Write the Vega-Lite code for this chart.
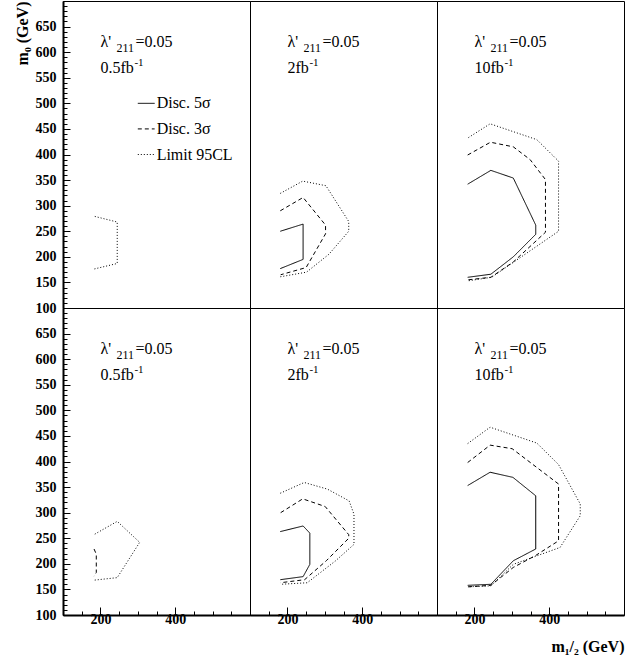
{
"$schema":"https://vega.github.io/schema/vega-lite/v6.json",
"background":"white",
"padding":{"left":13,"top":0,"right":0,"bottom":0},
"config":{"view":{"stroke":"black","strokeWidth":1},"font":"Liberation Serif","axis":{"grid":false,"labelFlush":false,"labelOverlap":false,"labelBound":false},"text":{"font":"Liberation Serif","color":"black"}},
"datasets":{
"lines":[
{"p":"TL","s":"95CL","i":0,"x":185,"y":279},{"p":"TL","s":"95CL","i":1,"x":245,"y":268},{"p":"TL","s":"95CL","i":2,"x":245,"y":187},{"p":"TL","s":"95CL","i":3,"x":182,"y":176},
{"p":"TM","s":"5σ","i":0,"x":181,"y":250},{"p":"TM","s":"5σ","i":1,"x":242,"y":264},{"p":"TM","s":"5σ","i":2,"x":242,"y":195},{"p":"TM","s":"5σ","i":3,"x":181,"y":177},
{"p":"TM","s":"3σ","i":0,"x":181,"y":290},{"p":"TM","s":"3σ","i":1,"x":242,"y":316},{"p":"TM","s":"3σ","i":2,"x":302,"y":262},{"p":"TM","s":"3σ","i":3,"x":302,"y":245},{"p":"TM","s":"3σ","i":4,"x":250,"y":179},{"p":"TM","s":"3σ","i":5,"x":182,"y":165},
{"p":"TM","s":"95CL","i":0,"x":181,"y":324},{"p":"TM","s":"95CL","i":1,"x":241,"y":348},{"p":"TM","s":"95CL","i":2,"x":303,"y":339},{"p":"TM","s":"95CL","i":3,"x":364,"y":269},{"p":"TM","s":"95CL","i":4,"x":364,"y":250},{"p":"TM","s":"95CL","i":5,"x":311,"y":205},{"p":"TM","s":"95CL","i":6,"x":251,"y":170},{"p":"TM","s":"95CL","i":7,"x":181,"y":161},
{"p":"TR","s":"5σ","i":0,"x":182,"y":342},{"p":"TR","s":"5σ","i":1,"x":244,"y":369},{"p":"TR","s":"5σ","i":2,"x":304,"y":354},{"p":"TR","s":"5σ","i":3,"x":364,"y":262},{"p":"TR","s":"5σ","i":4,"x":364,"y":244},{"p":"TR","s":"5σ","i":5,"x":304,"y":200},{"p":"TR","s":"5σ","i":6,"x":244,"y":166},{"p":"TR","s":"5σ","i":7,"x":182,"y":160},
{"p":"TR","s":"3σ","i":0,"x":182,"y":399},{"p":"TR","s":"3σ","i":1,"x":243,"y":424},{"p":"TR","s":"3σ","i":2,"x":304,"y":415},{"p":"TR","s":"3σ","i":3,"x":349,"y":390},{"p":"TR","s":"3σ","i":4,"x":390,"y":351},{"p":"TR","s":"3σ","i":5,"x":390,"y":248},{"p":"TR","s":"3σ","i":6,"x":304,"y":190},{"p":"TR","s":"3σ","i":7,"x":244,"y":160},{"p":"TR","s":"3σ","i":8,"x":182,"y":155},
{"p":"TR","s":"95CL","i":0,"x":184,"y":433},{"p":"TR","s":"95CL","i":1,"x":242,"y":460},{"p":"TR","s":"95CL","i":2,"x":367,"y":429},{"p":"TR","s":"95CL","i":3,"x":425,"y":387},{"p":"TR","s":"95CL","i":4,"x":425,"y":250},{"p":"TR","s":"95CL","i":5,"x":246,"y":160},{"p":"TR","s":"95CL","i":6,"x":182,"y":153},
{"p":"BL","s":"95CL","i":0,"x":185,"y":258},{"p":"BL","s":"95CL","i":1,"x":245,"y":283},{"p":"BL","s":"95CL","i":2,"x":305,"y":242},{"p":"BL","s":"95CL","i":3,"x":245,"y":173},{"p":"BL","s":"95CL","i":4,"x":182,"y":168},
{"p":"BL","s":"3σ","i":0,"x":183,"y":229},{"p":"BL","s":"3σ","i":1,"x":189,"y":219},{"p":"BL","s":"3σ","i":2,"x":189,"y":183},{"p":"BL","s":"3σ","i":3,"x":183,"y":176},
{"p":"BM","s":"5σ","i":0,"x":181,"y":263},{"p":"BM","s":"5σ","i":1,"x":242,"y":274},{"p":"BM","s":"5σ","i":2,"x":260,"y":260},{"p":"BM","s":"5σ","i":3,"x":260,"y":199},{"p":"BM","s":"5σ","i":4,"x":242,"y":175},{"p":"BM","s":"5σ","i":5,"x":181,"y":169},
{"p":"BM","s":"3σ","i":0,"x":182,"y":300},{"p":"BM","s":"3σ","i":1,"x":241,"y":327},{"p":"BM","s":"3σ","i":2,"x":301,"y":312},{"p":"BM","s":"3σ","i":3,"x":364,"y":257},{"p":"BM","s":"3σ","i":4,"x":364,"y":250},{"p":"BM","s":"3σ","i":5,"x":304,"y":206},{"p":"BM","s":"3σ","i":6,"x":246,"y":169},{"p":"BM","s":"3σ","i":7,"x":181,"y":163},
{"p":"BM","s":"95CL","i":0,"x":181,"y":338},{"p":"BM","s":"95CL","i":1,"x":245,"y":359},{"p":"BM","s":"95CL","i":2,"x":307,"y":346},{"p":"BM","s":"95CL","i":3,"x":365,"y":323},{"p":"BM","s":"95CL","i":4,"x":378,"y":297},{"p":"BM","s":"95CL","i":5,"x":378,"y":238},{"p":"BM","s":"95CL","i":6,"x":329,"y":206},{"p":"BM","s":"95CL","i":7,"x":253,"y":163},{"p":"BM","s":"95CL","i":8,"x":181,"y":160},
{"p":"BR","s":"5σ","i":0,"x":182,"y":353},{"p":"BR","s":"5σ","i":1,"x":242,"y":379},{"p":"BR","s":"5σ","i":2,"x":303,"y":369},{"p":"BR","s":"5σ","i":3,"x":364,"y":333},{"p":"BR","s":"5σ","i":4,"x":364,"y":229},{"p":"BR","s":"5σ","i":5,"x":304,"y":206},{"p":"BR","s":"5σ","i":6,"x":244,"y":160},{"p":"BR","s":"5σ","i":7,"x":182,"y":158},
{"p":"BR","s":"3σ","i":0,"x":182,"y":398},{"p":"BR","s":"3σ","i":1,"x":242,"y":432},{"p":"BR","s":"3σ","i":2,"x":301,"y":425},{"p":"BR","s":"3σ","i":3,"x":425,"y":356},{"p":"BR","s":"3σ","i":4,"x":425,"y":245},{"p":"BR","s":"3σ","i":5,"x":363,"y":216},{"p":"BR","s":"3σ","i":6,"x":304,"y":193},{"p":"BR","s":"3σ","i":7,"x":244,"y":158},{"p":"BR","s":"3σ","i":8,"x":182,"y":155},
{"p":"BR","s":"95CL","i":0,"x":182,"y":435},{"p":"BR","s":"95CL","i":1,"x":242,"y":467},{"p":"BR","s":"95CL","i":2,"x":367,"y":436},{"p":"BR","s":"95CL","i":3,"x":425,"y":394},{"p":"BR","s":"95CL","i":4,"x":483,"y":317},{"p":"BR","s":"95CL","i":5,"x":483,"y":294},{"p":"BR","s":"95CL","i":6,"x":429,"y":232},{"p":"BR","s":"95CL","i":7,"x":304,"y":199},{"p":"BR","s":"95CL","i":8,"x":244,"y":157},{"p":"BR","s":"95CL","i":9,"x":182,"y":155}
],
"notes":[
{"p":"TL","lam":"λ'","sub":"211","eq":"=0.05","lumi":"0.5fb","sup":"-1","x":200,"y1":610,"y2":560},
{"p":"TM","lam":"λ'","sub":"211","eq":"=0.05","lumi":"2fb","sup":"-1","x":200,"y1":610,"y2":560},
{"p":"TR","lam":"λ'","sub":"211","eq":"=0.05","lumi":"10fb","sup":"-1","x":200,"y1":610,"y2":560},
{"p":"BL","lam":"λ'","sub":"211","eq":"=0.05","lumi":"0.5fb","sup":"-1","x":200,"y1":610,"y2":560},
{"p":"BM","lam":"λ'","sub":"211","eq":"=0.05","lumi":"2fb","sup":"-1","x":200,"y1":610,"y2":560},
{"p":"BR","lam":"λ'","sub":"211","eq":"=0.05","lumi":"10fb","sup":"-1","x":200,"y1":610,"y2":560}
],
"legend":[
{"s":"5σ","label":"Disc. 5σ","x":300,"x2":345,"y":500},
{"s":"3σ","label":"Disc. 3σ","x":300,"x2":345,"y":450},
{"s":"95CL","label":"Limit 95CL","x":300,"x2":345,"y":400}
]
},
"columns":3,
"spacing":0,
"bounds":"flush",
"concat":[
{"width":187,"height":307,"resolve":{"axis":{"y":"independent"}},"layer":[
 {"data":{"name":"lines"},"transform":[{"filter":"datum.p==='TL'"}],"mark":{"type":"line","color":"black","strokeWidth":1},
  "encoding":{"x":{"field":"x","type":"quantitative","scale":{"domain":[100,600],"nice":false,"zero":false},"axis":{"orient":"bottom","domain":true,"domainColor":"black","domainWidth":2,"ticks":false,"labels":false,"title":null}},
   "y":{"field":"y","type":"quantitative","scale":{"domain":[100,700],"nice":false,"zero":false},"axis":{"orient":"left","values":[100,150,200,250,300,350,400,450,500,550,600,650],"tickSize":-7,"tickColor":"black","domain":true,"domainColor":"black","domainWidth":2,"labelFont":"Liberation Serif","labelFontWeight":"bold","labelFontSize":14,"labelColor":"black","labelPadding":14,"title":"m₀ (GeV)","titleFont":"Liberation Serif","titleFontWeight":"bold","titleFontSize":16,"titleColor":"black","titleAnchor":"end","titlePadding":5}},
   "strokeDash":{"field":"s","type":"nominal","scale":{"domain":["5σ","3σ","95CL"],"range":[[1,0],[4,3],[1,2]]},"legend":null},
   "order":{"field":"i","type":"quantitative"}}},
 {"data":{"name":"notes"},"transform":[{"filter":"datum.p==='TL'"}],"mark":{"type":"text","align":"left","baseline":"alphabetic","fontSize":16},
  "encoding":{"x":{"field":"x","type":"quantitative","scale":{"domain":[100,600],"nice":false,"zero":false},"axis":null},"y":{"field":"y1","type":"quantitative","scale":{"domain":[100,700],"nice":false,"zero":false},"axis":{"orient":"left","values":[100,110,120,130,140,150,160,170,180,190,200,210,220,230,240,250,260,270,280,290,300,310,320,330,340,350,360,370,380,390,400,410,420,430,440,450,460,470,480,490,500,510,520,530,540,550,560,570,580,590,600,610,620,630,640,650,660,670,680,690,700],"tickSize":-4,"tickColor":"black","labels":false,"domain":false,"title":null}},"text":{"field":"lam"}}},
 {"data":{"name":"notes"},"transform":[{"filter":"datum.p==='TL'"}],"mark":{"type":"text","align":"left","baseline":"alphabetic","fontSize":12,"dx":16,"dy":5},
  "encoding":{"x":{"field":"x","type":"quantitative","axis":null},"y":{"field":"y1","type":"quantitative","axis":null},"text":{"field":"sub"}}},
 {"data":{"name":"notes"},"transform":[{"filter":"datum.p==='TL'"}],"mark":{"type":"text","align":"left","baseline":"alphabetic","fontSize":16,"dx":35},
  "encoding":{"x":{"field":"x","type":"quantitative","axis":null},"y":{"field":"y1","type":"quantitative","axis":null},"text":{"field":"eq"}}},
 {"data":{"name":"notes"},"transform":[{"filter":"datum.p==='TL'"}],"mark":{"type":"text","align":"left","baseline":"alphabetic","fontSize":16},
  "encoding":{"x":{"field":"x","type":"quantitative","axis":null},"y":{"field":"y2","type":"quantitative","axis":null},"text":{"field":"lumi"}}},
 {"data":{"name":"notes"},"transform":[{"filter":"datum.p==='TL'"}],"mark":{"type":"text","align":"left","baseline":"alphabetic","fontSize":11,"dx":34,"dy":-7},
  "encoding":{"x":{"field":"x","type":"quantitative","axis":null},"y":{"field":"y2","type":"quantitative","axis":null},"text":{"field":"sup"}}},
 {"data":{"name":"legend"},"mark":{"type":"rule","color":"black","strokeWidth":1},
  "encoding":{"x":{"field":"x","type":"quantitative","axis":null},"x2":{"field":"x2"},"y":{"field":"y","type":"quantitative","axis":null},"strokeDash":{"field":"s","type":"nominal","legend":null}}},
 {"data":{"name":"legend"},"mark":{"type":"text","align":"left","baseline":"middle","fontSize":16,"dx":2},
  "encoding":{"x":{"field":"x2","type":"quantitative","axis":null},"y":{"field":"y","type":"quantitative","axis":null},"text":{"field":"label"}}}
]},
{"width":187,"height":307,"layer":[
 {"data":{"name":"lines"},"transform":[{"filter":"datum.p==='TM'"}],"mark":{"type":"line","color":"black","strokeWidth":1},
  "encoding":{"x":{"field":"x","type":"quantitative","scale":{"domain":[100,600],"nice":false,"zero":false},"axis":{"orient":"bottom","domain":true,"domainColor":"black","domainWidth":2,"ticks":false,"labels":false,"title":null}},
   "y":{"field":"y","type":"quantitative","scale":{"domain":[100,700],"nice":false,"zero":false},"axis":null},
   "strokeDash":{"field":"s","type":"nominal","scale":{"domain":["5σ","3σ","95CL"],"range":[[1,0],[4,3],[1,2]]},"legend":null},
   "order":{"field":"i","type":"quantitative"}}},
 {"data":{"name":"notes"},"transform":[{"filter":"datum.p==='TM'"}],"mark":{"type":"text","align":"left","baseline":"alphabetic","fontSize":16},
  "encoding":{"x":{"field":"x","type":"quantitative","axis":null},"y":{"field":"y1","type":"quantitative","axis":null},"text":{"field":"lam"}}},
 {"data":{"name":"notes"},"transform":[{"filter":"datum.p==='TM'"}],"mark":{"type":"text","align":"left","baseline":"alphabetic","fontSize":12,"dx":16,"dy":5},
  "encoding":{"x":{"field":"x","type":"quantitative","axis":null},"y":{"field":"y1","type":"quantitative","axis":null},"text":{"field":"sub"}}},
 {"data":{"name":"notes"},"transform":[{"filter":"datum.p==='TM'"}],"mark":{"type":"text","align":"left","baseline":"alphabetic","fontSize":16,"dx":35},
  "encoding":{"x":{"field":"x","type":"quantitative","axis":null},"y":{"field":"y1","type":"quantitative","axis":null},"text":{"field":"eq"}}},
 {"data":{"name":"notes"},"transform":[{"filter":"datum.p==='TM'"}],"mark":{"type":"text","align":"left","baseline":"alphabetic","fontSize":16},
  "encoding":{"x":{"field":"x","type":"quantitative","axis":null},"y":{"field":"y2","type":"quantitative","axis":null},"text":{"field":"lumi"}}},
 {"data":{"name":"notes"},"transform":[{"filter":"datum.p==='TM'"}],"mark":{"type":"text","align":"left","baseline":"alphabetic","fontSize":11,"dx":22,"dy":-7},
  "encoding":{"x":{"field":"x","type":"quantitative","axis":null},"y":{"field":"y2","type":"quantitative","axis":null},"text":{"field":"sup"}}}
]},
{"width":187,"height":307,"layer":[
 {"data":{"name":"lines"},"transform":[{"filter":"datum.p==='TR'"}],"mark":{"type":"line","color":"black","strokeWidth":1},
  "encoding":{"x":{"field":"x","type":"quantitative","scale":{"domain":[100,600],"nice":false,"zero":false},"axis":{"orient":"bottom","domain":true,"domainColor":"black","domainWidth":2,"ticks":false,"labels":false,"title":null}},
   "y":{"field":"y","type":"quantitative","scale":{"domain":[100,700],"nice":false,"zero":false},"axis":null},
   "strokeDash":{"field":"s","type":"nominal","scale":{"domain":["5σ","3σ","95CL"],"range":[[1,0],[4,3],[1,2]]},"legend":null},
   "order":{"field":"i","type":"quantitative"}}},
 {"data":{"name":"notes"},"transform":[{"filter":"datum.p==='TR'"}],"mark":{"type":"text","align":"left","baseline":"alphabetic","fontSize":16},
  "encoding":{"x":{"field":"x","type":"quantitative","axis":null},"y":{"field":"y1","type":"quantitative","axis":null},"text":{"field":"lam"}}},
 {"data":{"name":"notes"},"transform":[{"filter":"datum.p==='TR'"}],"mark":{"type":"text","align":"left","baseline":"alphabetic","fontSize":12,"dx":16,"dy":5},
  "encoding":{"x":{"field":"x","type":"quantitative","axis":null},"y":{"field":"y1","type":"quantitative","axis":null},"text":{"field":"sub"}}},
 {"data":{"name":"notes"},"transform":[{"filter":"datum.p==='TR'"}],"mark":{"type":"text","align":"left","baseline":"alphabetic","fontSize":16,"dx":35},
  "encoding":{"x":{"field":"x","type":"quantitative","axis":null},"y":{"field":"y1","type":"quantitative","axis":null},"text":{"field":"eq"}}},
 {"data":{"name":"notes"},"transform":[{"filter":"datum.p==='TR'"}],"mark":{"type":"text","align":"left","baseline":"alphabetic","fontSize":16},
  "encoding":{"x":{"field":"x","type":"quantitative","axis":null},"y":{"field":"y2","type":"quantitative","axis":null},"text":{"field":"lumi"}}},
 {"data":{"name":"notes"},"transform":[{"filter":"datum.p==='TR'"}],"mark":{"type":"text","align":"left","baseline":"alphabetic","fontSize":11,"dx":30,"dy":-7},
  "encoding":{"x":{"field":"x","type":"quantitative","axis":null},"y":{"field":"y2","type":"quantitative","axis":null},"text":{"field":"sup"}}}
]},
{"width":187,"height":307,"resolve":{"axis":{"x":"independent","y":"independent"}},"layer":[
 {"data":{"name":"lines"},"transform":[{"filter":"datum.p==='BL'"}],"mark":{"type":"line","color":"black","strokeWidth":1},
  "encoding":{"x":{"field":"x","type":"quantitative","scale":{"domain":[100,600],"nice":false,"zero":false},"axis":{"orient":"bottom","values":[200,400],"tickSize":-8,"tickColor":"black","domain":true,"domainColor":"black","domainWidth":2,"labelFont":"Liberation Serif","labelFontWeight":"bold","labelFontSize":14,"labelColor":"black","labelPadding":5,"title":null}},
   "y":{"field":"y","type":"quantitative","scale":{"domain":[100,700],"nice":false,"zero":false},"axis":{"orient":"left","values":[100,150,200,250,300,350,400,450,500,550,600,650],"tickSize":-7,"tickColor":"black","domain":true,"domainColor":"black","domainWidth":2,"labelFont":"Liberation Serif","labelFontWeight":"bold","labelFontSize":14,"labelColor":"black","labelPadding":14,"title":null}},
   "strokeDash":{"field":"s","type":"nominal","scale":{"domain":["5σ","3σ","95CL"],"range":[[1,0],[4,3],[1,2]]},"legend":null},
   "order":{"field":"i","type":"quantitative"}}},
 {"data":{"name":"notes"},"transform":[{"filter":"datum.p==='BL'"}],"mark":{"type":"text","align":"left","baseline":"alphabetic","fontSize":16},
  "encoding":{"x":{"field":"x","type":"quantitative","scale":{"domain":[100,600],"nice":false,"zero":false},"axis":{"orient":"bottom","values":[100,150,200,250,300,350,400,450,500,550,600],"tickSize":-4,"tickColor":"black","labels":false,"domain":false,"title":null}},"y":{"field":"y1","type":"quantitative","scale":{"domain":[100,700],"nice":false,"zero":false},"axis":{"orient":"left","values":[100,110,120,130,140,150,160,170,180,190,200,210,220,230,240,250,260,270,280,290,300,310,320,330,340,350,360,370,380,390,400,410,420,430,440,450,460,470,480,490,500,510,520,530,540,550,560,570,580,590,600,610,620,630,640,650,660,670,680,690,700],"tickSize":-4,"tickColor":"black","labels":false,"domain":false,"title":null}},"text":{"field":"lam"}}},
 {"data":{"name":"notes"},"transform":[{"filter":"datum.p==='BL'"}],"mark":{"type":"text","align":"left","baseline":"alphabetic","fontSize":12,"dx":16,"dy":5},
  "encoding":{"x":{"field":"x","type":"quantitative","axis":null},"y":{"field":"y1","type":"quantitative","axis":null},"text":{"field":"sub"}}},
 {"data":{"name":"notes"},"transform":[{"filter":"datum.p==='BL'"}],"mark":{"type":"text","align":"left","baseline":"alphabetic","fontSize":16,"dx":35},
  "encoding":{"x":{"field":"x","type":"quantitative","axis":null},"y":{"field":"y1","type":"quantitative","axis":null},"text":{"field":"eq"}}},
 {"data":{"name":"notes"},"transform":[{"filter":"datum.p==='BL'"}],"mark":{"type":"text","align":"left","baseline":"alphabetic","fontSize":16},
  "encoding":{"x":{"field":"x","type":"quantitative","axis":null},"y":{"field":"y2","type":"quantitative","axis":null},"text":{"field":"lumi"}}},
 {"data":{"name":"notes"},"transform":[{"filter":"datum.p==='BL'"}],"mark":{"type":"text","align":"left","baseline":"alphabetic","fontSize":11,"dx":34,"dy":-7},
  "encoding":{"x":{"field":"x","type":"quantitative","axis":null},"y":{"field":"y2","type":"quantitative","axis":null},"text":{"field":"sup"}}}
]},
{"width":187,"height":307,"resolve":{"axis":{"x":"independent"}},"layer":[
 {"data":{"name":"lines"},"transform":[{"filter":"datum.p==='BM'"}],"mark":{"type":"line","color":"black","strokeWidth":1},
  "encoding":{"x":{"field":"x","type":"quantitative","scale":{"domain":[100,600],"nice":false,"zero":false},"axis":{"orient":"bottom","values":[200,400],"tickSize":-8,"tickColor":"black","domain":true,"domainColor":"black","domainWidth":2,"labelFont":"Liberation Serif","labelFontWeight":"bold","labelFontSize":14,"labelColor":"black","labelPadding":5,"title":null}},
   "y":{"field":"y","type":"quantitative","scale":{"domain":[100,700],"nice":false,"zero":false},"axis":null},
   "strokeDash":{"field":"s","type":"nominal","scale":{"domain":["5σ","3σ","95CL"],"range":[[1,0],[4,3],[1,2]]},"legend":null},
   "order":{"field":"i","type":"quantitative"}}},
 {"data":{"name":"notes"},"transform":[{"filter":"datum.p==='BM'"}],"mark":{"type":"text","align":"left","baseline":"alphabetic","fontSize":16},
  "encoding":{"x":{"field":"x","type":"quantitative","scale":{"domain":[100,600],"nice":false,"zero":false},"axis":{"orient":"bottom","values":[100,150,200,250,300,350,400,450,500,550,600],"tickSize":-4,"tickColor":"black","labels":false,"domain":false,"title":null}},"y":{"field":"y1","type":"quantitative","axis":null},"text":{"field":"lam"}}},
 {"data":{"name":"notes"},"transform":[{"filter":"datum.p==='BM'"}],"mark":{"type":"text","align":"left","baseline":"alphabetic","fontSize":12,"dx":16,"dy":5},
  "encoding":{"x":{"field":"x","type":"quantitative","axis":null},"y":{"field":"y1","type":"quantitative","axis":null},"text":{"field":"sub"}}},
 {"data":{"name":"notes"},"transform":[{"filter":"datum.p==='BM'"}],"mark":{"type":"text","align":"left","baseline":"alphabetic","fontSize":16,"dx":35},
  "encoding":{"x":{"field":"x","type":"quantitative","axis":null},"y":{"field":"y1","type":"quantitative","axis":null},"text":{"field":"eq"}}},
 {"data":{"name":"notes"},"transform":[{"filter":"datum.p==='BM'"}],"mark":{"type":"text","align":"left","baseline":"alphabetic","fontSize":16},
  "encoding":{"x":{"field":"x","type":"quantitative","axis":null},"y":{"field":"y2","type":"quantitative","axis":null},"text":{"field":"lumi"}}},
 {"data":{"name":"notes"},"transform":[{"filter":"datum.p==='BM'"}],"mark":{"type":"text","align":"left","baseline":"alphabetic","fontSize":11,"dx":22,"dy":-7},
  "encoding":{"x":{"field":"x","type":"quantitative","axis":null},"y":{"field":"y2","type":"quantitative","axis":null},"text":{"field":"sup"}}}
]},
{"width":187,"height":307,"resolve":{"axis":{"x":"independent"}},"layer":[
 {"data":{"name":"lines"},"transform":[{"filter":"datum.p==='BR'"}],"mark":{"type":"line","color":"black","strokeWidth":1},
  "encoding":{"x":{"field":"x","type":"quantitative","scale":{"domain":[100,600],"nice":false,"zero":false},"axis":{"orient":"bottom","values":[200,400],"tickSize":-8,"tickColor":"black","domain":true,"domainColor":"black","domainWidth":2,"labelFont":"Liberation Serif","labelFontWeight":"bold","labelFontSize":14,"labelColor":"black","labelPadding":5,"title":"m₁/₂ (GeV)","titleFont":"Liberation Serif","titleFontWeight":"bold","titleFontSize":16,"titleColor":"black","titleAnchor":"end","titlePadding":12}},
   "y":{"field":"y","type":"quantitative","scale":{"domain":[100,700],"nice":false,"zero":false},"axis":null},
   "strokeDash":{"field":"s","type":"nominal","scale":{"domain":["5σ","3σ","95CL"],"range":[[1,0],[4,3],[1,2]]},"legend":null},
   "order":{"field":"i","type":"quantitative"}}},
 {"data":{"name":"notes"},"transform":[{"filter":"datum.p==='BR'"}],"mark":{"type":"text","align":"left","baseline":"alphabetic","fontSize":16},
  "encoding":{"x":{"field":"x","type":"quantitative","scale":{"domain":[100,600],"nice":false,"zero":false},"axis":{"orient":"bottom","values":[100,150,200,250,300,350,400,450,500,550,600],"tickSize":-4,"tickColor":"black","labels":false,"domain":false,"title":null}},"y":{"field":"y1","type":"quantitative","axis":null},"text":{"field":"lam"}}},
 {"data":{"name":"notes"},"transform":[{"filter":"datum.p==='BR'"}],"mark":{"type":"text","align":"left","baseline":"alphabetic","fontSize":12,"dx":16,"dy":5},
  "encoding":{"x":{"field":"x","type":"quantitative","axis":null},"y":{"field":"y1","type":"quantitative","axis":null},"text":{"field":"sub"}}},
 {"data":{"name":"notes"},"transform":[{"filter":"datum.p==='BR'"}],"mark":{"type":"text","align":"left","baseline":"alphabetic","fontSize":16,"dx":35},
  "encoding":{"x":{"field":"x","type":"quantitative","axis":null},"y":{"field":"y1","type":"quantitative","axis":null},"text":{"field":"eq"}}},
 {"data":{"name":"notes"},"transform":[{"filter":"datum.p==='BR'"}],"mark":{"type":"text","align":"left","baseline":"alphabetic","fontSize":16},
  "encoding":{"x":{"field":"x","type":"quantitative","axis":null},"y":{"field":"y2","type":"quantitative","axis":null},"text":{"field":"lumi"}}},
 {"data":{"name":"notes"},"transform":[{"filter":"datum.p==='BR'"}],"mark":{"type":"text","align":"left","baseline":"alphabetic","fontSize":11,"dx":30,"dy":-7},
  "encoding":{"x":{"field":"x","type":"quantitative","axis":null},"y":{"field":"y2","type":"quantitative","axis":null},"text":{"field":"sup"}}}
]}
]
}
